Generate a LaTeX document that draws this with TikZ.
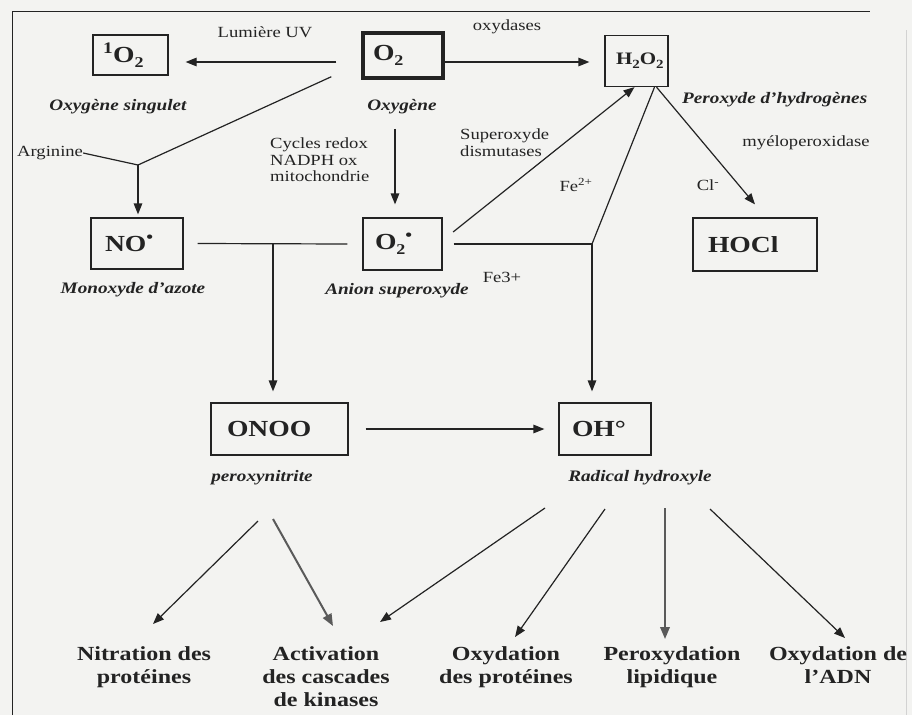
\documentclass[tikz,border=0pt]{standalone}
\usepackage{fontspec}
\setmainfont{Liberation Serif}[FakeStretch=1.2]
\usetikzlibrary{arrows.meta}
\definecolor{bgc}{RGB}{243,243,241}
\definecolor{ink}{RGB}{35,35,35}
\definecolor{inkg}{RGB}{90,90,90}
\newcommand{\lowtwo}{\raisebox{-0.22em}{\fontsize{15}{15}\selectfont 2}}
\newcommand{\lowtwosm}{\raisebox{-0.22em}{\fontsize{12.5}{13}\selectfont 2}}
\tikzset{
  x=1pt, y=-1pt,
  box/.style={draw=ink, line width=1.2pt, inner sep=0pt, align=left, text=ink,
              font=\fontsize{23}{25}\selectfont\bfseries},
  arr/.style={draw=ink, line width=1.2pt, -{Triangle[length=11pt,width=8.5pt]}},
  ln/.style={draw=ink, line width=1.2pt},
  garr/.style={draw=inkg, line width=2pt, -{Triangle[length=12pt,width=9.5pt]}},
  lbl/.style={font=\fontsize{15.5}{16.5}\selectfont, text=ink, inner sep=0pt, align=left},
  ital/.style={font=\fontsize{16}{17}\selectfont\bfseries\itshape, text=ink, inner sep=0pt},
  res/.style={font=\fontsize{20}{23}\selectfont\bfseries, text=ink, inner sep=0pt, align=center},
}
\begin{document}
\begin{tikzpicture}
\fill[bgc] (0,0) rectangle (912,715);
\useasboundingbox (0,0) rectangle (912,715);
% frame
\draw[ink, line width=1pt] (12,715) -- (12,11) -- (870,11);
\draw[gray!35, line width=0.8pt] (906,30) -- (906,715);

% boxes
\node[box, minimum width=75pt, minimum height=40pt, text width=55pt] (b1O2) at (130.5,55) {\textsuperscript{1}O\lowtwo};
\node[box, line width=3.5pt, minimum width=80pt, minimum height=45pt, text width=60pt] (bO2) at (403,55.5) {O\lowtwo};
\node[box, font=\fontsize{17.5}{20}\selectfont\bfseries, minimum width=63pt, minimum height=51pt, text width=41pt] (bH2O2) at (636.5,61) {H\lowtwosm O\lowtwosm};
\node[box, minimum width=92pt, minimum height=51pt, text width=64pt] (bNO) at (137,243.5) {NO\textsuperscript{•}};
\node[box, minimum width=79pt, minimum height=52pt, text width=55pt] (bO2r) at (402.5,244) {O\lowtwo\textsuperscript{•}};
\node[box, minimum width=124pt, minimum height=53pt, text width=94pt] (bHOCl) at (755,244.5) {HOCl};
\node[box, minimum width=137pt, minimum height=52pt, text width=105pt] (bONOO) at (279.5,429) {ONOO};
\node[box, minimum width=92pt, minimum height=52pt, text width=66pt] (bOH) at (605,429) {OH°};

% labels
\node[lbl] (tUV) at (265,32) {Lumière UV};
\node[lbl] (tOxyd) at (507,27) {oxydases};
\node[ital] (tSing) at (118,107) {Oxygène singulet};
\node[ital] (tOxy) at (402,107) {Oxygène};
\node[ital, anchor=west] (tPer) at (682,100) {Peroxyde d'hydrogènes};
\node[lbl, anchor=north west] (tSOD) at (460,129) {Superoxyde\\dismutases};
\node[lbl] (tMyelo) at (806,143) {myéloperoxidase};
\node[lbl, anchor=west] (tArg) at (17,153) {Arginine};
\node[lbl, anchor=north west] (tCyc) at (270,138) {Cycles redox\\NADPH ox\\mitochondrie};
\node[lbl] (tFe2) at (576,185) {Fe\textsuperscript{2+}};
\node[lbl] (tCl) at (708,185) {Cl\textsuperscript{-}};
\node[ital] (tMono) at (133,290) {Monoxyde d'azote};
\node[ital] (tAnion) at (397,291) {Anion superoxyde};
\node[lbl] (tFe3) at (502,277) {Fe3+};
\node[ital] (tPeroxy) at (262,478) {peroxynitrite};
\node[ital] (tRad) at (640,478) {Radical hydroxyle};

% results
\node[res, anchor=north] (rNit) at (144,646) {Nitration des\\protéines};
\node[res, anchor=north] (rAct) at (326,646) {Activation\\des cascades\\de kinases};
\node[res, anchor=north] (rOxP) at (506,646) {Oxydation\\des protéines};
\node[res, anchor=north] (rLip) at (672,646) {Peroxydation\\lipidique};
\node[res, anchor=north] (rADN) at (838,646) {Oxydation de\\l'ADN};

% junctions
\coordinate (J1) at (138,165);
\coordinate (J2) at (273,244);
\coordinate (J3) at (592,244);

% top connectors
\draw[arr] ([xshift=-25pt,yshift=-6.5pt]bO2.west) -- ([xshift=17pt,yshift=-7pt]b1O2.east);
\draw[arr] ([yshift=-6.5pt]bO2.east) -- ([xshift=-15pt,yshift=-1pt]bH2O2.west);
\draw[ln] ([xshift=-30pt,yshift=3pt]bO2.south west) -- (J1);
\draw[ln] (tArg.east) -- (J1);
\draw[arr, shorten >=3pt] (J1) -- (J1 |- bNO.north);
\draw[arr] ([xshift=-8pt,yshift=-49pt]bO2.south) -- ([xshift=-7.5pt,yshift=13pt]bO2r.north);

% middle connectors
\draw[ln] ([xshift=14pt]bNO.east) -- ([xshift=-15pt]bO2r.west);
\draw[arr, shorten >=11pt] (J2) -- (J2 |- bONOO.north);
\draw[arr] ([xshift=10.5pt,yshift=12pt]bO2r.east) -- ([xshift=-2pt]bH2O2.south);
\draw[ln] ([xshift=11pt]bO2r.east) -- (J3);
\draw[ln] ([xshift=18pt]bH2O2.south) -- (J3);
\draw[arr, shorten >=11pt] (J3) -- (J3 |- bOH.north);
\draw[arr] ([xshift=20pt]bH2O2.south) -- ([yshift=13pt]bHOCl.north);
\draw[arr] ([xshift=17pt]bONOO.east) -- ([xshift=-14pt]bOH.west);

% bottom connectors
\coordinate (pA) at (258,521);
\coordinate (pB) at (273,519);
\coordinate (hA) at (545,508);
\coordinate (hB) at (605,509);
\coordinate (hC) at (665,508);
\coordinate (hD) at (710,509);
\draw[arr] (pA) -- (153,624);
\draw[garr] (pB) -- (333,626);
\draw[arr] (hA) -- (380,622);
\draw[arr] (hB) -- (515,637);
\draw[garr] (hC) -- (665,639);
\draw[arr] (hD) -- (845,638);
\end{tikzpicture}
\end{document}
